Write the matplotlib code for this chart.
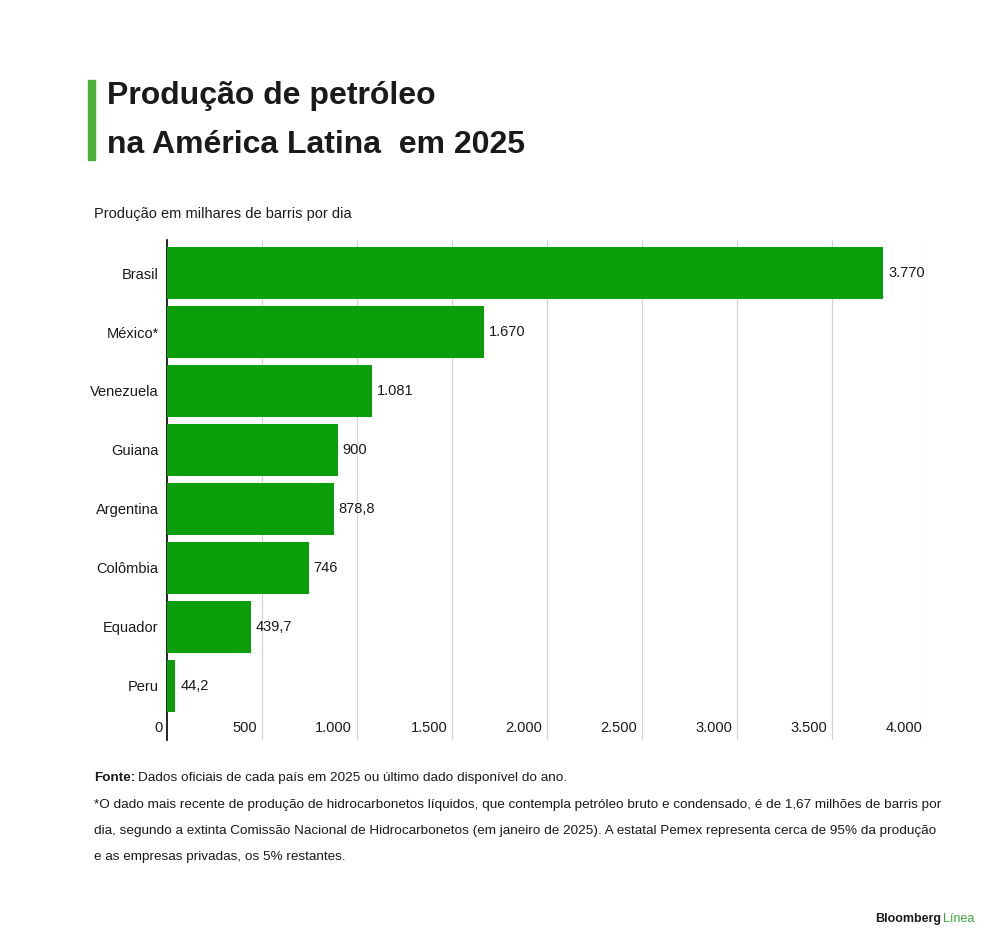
import matplotlib.pyplot as plt
import numpy as np

plt.rcParams["font.family"] = ["Liberation Sans", "DejaVu Sans"]

# dados (milhares de barris por dia)
paises = ["Brasil", "México*", "Venezuela", "Guiana", "Argentina", "Colômbia", "Equador", "Peru"]
producao = [3770, 1670, 1081, 900, 878.8, 746, 439.7, 44.2]
rotulos = ["3.770", "1.670", "1.081", "900", "878,8", "746", "439,7", "44,2"]
ticks = [0, 500, 1000, 1500, 2000, 2500, 3000, 3500, 4000]
tick_labels = ["0", "500", "1.000", "1.500", "2.000", "2.500", "3.000", "3.500", "4.000"]

verde = "#0a9e0a"
texto = "#1a1a1a"

fig = plt.figure(figsize=(10, 9.48), dpi=100)
ax = fig.add_axes([0.167, 0.2194, 0.76, 0.5274])

y = np.arange(len(paises))
ax.barh(y, producao, height=0.88, color=verde, zorder=3)

for yi, v, lab in zip(y, producao, rotulos):
    ax.text(v + 25, yi, lab, va="center", ha="left", fontsize=10.5, color=texto)

ax.set_xlim(0, 4000)
ax.set_ylim(7.92, -0.56)

# grade vertical e rótulos do eixo x dentro da área
for t, tl in zip(ticks, tick_labels):
    if t > 0:
        ax.axvline(t, color="#d4d4d4", lw=0.9, zorder=1)
    ax.text(t - 25, 7.72, tl, ha="right", va="center", fontsize=10.5, color=texto)

ax.set_xticks([])
ax.set_yticks(y)
ax.set_yticklabels(paises, fontsize=10.5, color=texto)
ax.tick_params(axis="y", length=0, pad=6)
for s in ["top", "right", "bottom"]:
    ax.spines[s].set_visible(False)
ax.spines["left"].set_color("black")
ax.spines["left"].set_linewidth(1.2)

# título
fig.patches.append(plt.Rectangle((0.088, 0.831), 0.007, 0.085, transform=fig.transFigure,
                                 color="#4caf3a"))
fig.text(0.107, 0.899, "Produção de petróleo", fontsize=23, fontweight="bold",
         color=texto, va="center")
fig.text(0.107, 0.847, "na América Latina  em 2025", fontsize=23, fontweight="bold",
         color=texto, va="center")
fig.text(0.094, 0.774, "Produção em milhares de barris por dia", fontsize=10.5,
         color=texto, va="center")

# rodapé
fs_nota = 9.7
fonte = fig.text(0.094, 0.179, "Fonte:", fontsize=fs_nota, fontweight="bold",
                 color=texto, va="center")
fig.text(0, 0, "")
plt.annotate("Dados oficiais de cada país em 2025 ou último dado disponível do ano.",
             xy=(1, 0.5), xycoords=fonte, xytext=(2, 0), textcoords="offset points",
             fontsize=fs_nota, color=texto, va="center", ha="left")
nota = ["*O dado mais recente de produção de hidrocarbonetos líquidos, que contempla petróleo bruto e condensado, é de 1,67 milhões de barris por",
        "dia, segundo a extinta Comissão Nacional de Hidrocarbonetos (em janeiro de 2025). A estatal Pemex representa cerca de 95% da produção",
        "e as empresas privadas, os 5% restantes."]
for i, linha in enumerate(nota):
    fig.text(0.094, 0.151 - i * 0.0275, linha, fontsize=fs_nota, color=texto, va="center")

fig.text(0.9415, 0.031, "Bloomberg", fontsize=9, fontweight="bold", color=texto,
         va="center", ha="right")
fig.text(0.9435, 0.031, "Línea", fontsize=9, color="#3aa83a", va="center", ha="left")

fig.savefig("out.png", dpi=100, facecolor="white")
